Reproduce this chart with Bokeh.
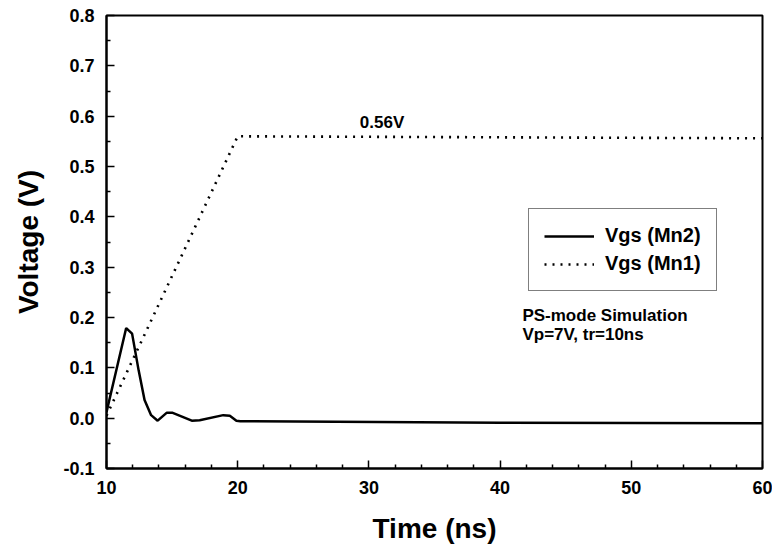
from bokeh.plotting import figure
from bokeh.models import (Range1d, FixedTicker, PrintfTickFormatter, Legend,
                          LegendItem, Label, ColumnDataSource)
from bokeh.embed import file_html
from bokeh.resources import INLINE

# ---- data ----
time_mn2 = [10.0, 11.5, 11.95, 12.45, 12.9, 13.4, 13.9, 14.6, 15.0, 16.5, 17.1,
            18.9, 19.4, 19.9, 20.2, 40.0, 60.0]
v_mn2 = [0.012, 0.179, 0.168, 0.095, 0.036, 0.006, -0.005, 0.011, 0.011, -0.005,
         -0.004, 0.006, 0.005, -0.005, -0.006, -0.009, -0.010]

time_mn1 = [10.0, 20.0, 60.0]
v_mn1 = [0.005, 0.56, 0.556]

x_ticks = [10, 20, 30, 40, 50, 60]
x_minor = [12, 14, 16, 18, 22, 24, 26, 28, 32, 34, 36, 38, 42, 44, 46, 48,
           52, 54, 56, 58]
y_ticks = [-0.1, 0.0, 0.1, 0.2, 0.3, 0.4, 0.5, 0.6, 0.7, 0.8]
y_minor = [-0.05, 0.05, 0.15, 0.25, 0.35, 0.45, 0.55, 0.65, 0.75]

label_056 = "0.56V"
note_line1 = "PS-mode Simulation"
note_line2 = "Vp=7V, tr=10ns"

FONT = "Liberation Sans"

p = figure(width=772, height=560, output_backend="svg", toolbar_location=None,
           x_range=Range1d(10, 60), y_range=Range1d(-0.1, 0.8),
           min_border_left=106, min_border_right=10, min_border_top=15,
           min_border_bottom=92)

p.background_fill_color = "white"
p.border_fill_color = "white"
p.outline_line_color = "black"
p.outline_line_width = 2
p.xgrid.visible = False
p.ygrid.visible = False

src2 = ColumnDataSource(dict(t=time_mn2, v=v_mn2))
src1 = ColumnDataSource(dict(t=time_mn1, v=v_mn1))
r2 = p.line("t", "v", source=src2, line_color="black", line_width=2.5)
r1 = p.line("t", "v", source=src1, line_color="black", line_width=2.6,
            line_dash="2 6")

# axes
p.xaxis.ticker = FixedTicker(ticks=x_ticks, minor_ticks=x_minor)
p.yaxis.ticker = FixedTicker(ticks=y_ticks, minor_ticks=y_minor)
p.xaxis.formatter = PrintfTickFormatter(format="%d")
p.yaxis.formatter = PrintfTickFormatter(format="%.1f")
p.xaxis.axis_label = "Time (ns)"
p.yaxis.axis_label = "Voltage (V)"
for ax in (p.xaxis, p.yaxis):
    ax.axis_line_width = 2
    ax.axis_line_color = "black"
    ax.major_tick_in = 8
    ax.major_tick_out = 0
    ax.minor_tick_in = 4
    ax.minor_tick_out = 0
    ax.major_tick_line_width = 1.5
    ax.minor_tick_line_width = 1.5
    ax.major_tick_line_color = "black"
    ax.minor_tick_line_color = "black"
    ax.major_label_text_font = FONT
    ax.major_label_text_font_style = "bold"
    ax.major_label_text_font_size = "18px"
    ax.major_label_text_color = "black"
    ax.axis_label_text_font = FONT
    ax.axis_label_text_font_style = "bold"
    ax.axis_label_text_font_size = "28px"
    ax.axis_label_text_color = "black"
p.xaxis.major_label_standoff = 12
p.yaxis.major_label_standoff = 12
p.xaxis.axis_label_standoff = 16
p.yaxis.axis_label_standoff = 16

# annotations
p.add_layout(Label(x=31.0, y=0.587, text=label_056, text_align="center",
                   text_baseline="middle", text_font=FONT,
                   text_font_style="bold", text_font_size="17px",
                   text_color="black"))
p.add_layout(Label(x=41.7, y=0.203, text=note_line1, text_align="left",
                   text_baseline="middle", text_font=FONT,
                   text_font_style="bold", text_font_size="17px",
                   text_color="black"))
p.add_layout(Label(x=41.7, y=0.166, text=note_line2, text_align="left",
                   text_baseline="middle", text_font=FONT,
                   text_font_style="bold", text_font_size="17px",
                   text_color="black"))

legend = Legend(items=[LegendItem(label="Vgs (Mn2)", renderers=[r2]),
                       LegendItem(label="Vgs (Mn1)", renderers=[r1])],
                location=(422, 177), orientation="vertical")
legend.border_line_color = "black"
legend.border_line_width = 1.5
legend.background_fill_alpha = 1.0
legend.label_text_font = FONT
legend.label_text_font_style = "bold"
legend.label_text_font_size = "20px"
legend.label_text_color = "black"
legend.glyph_width = 50
legend.glyph_height = 20
legend.label_height = 20
legend.label_standoff = 11
legend.spacing = 5
legend.padding = 15
legend.margin = 0
p.add_layout(legend, "center")

open("out.html", "w").write(file_html(p, INLINE))
